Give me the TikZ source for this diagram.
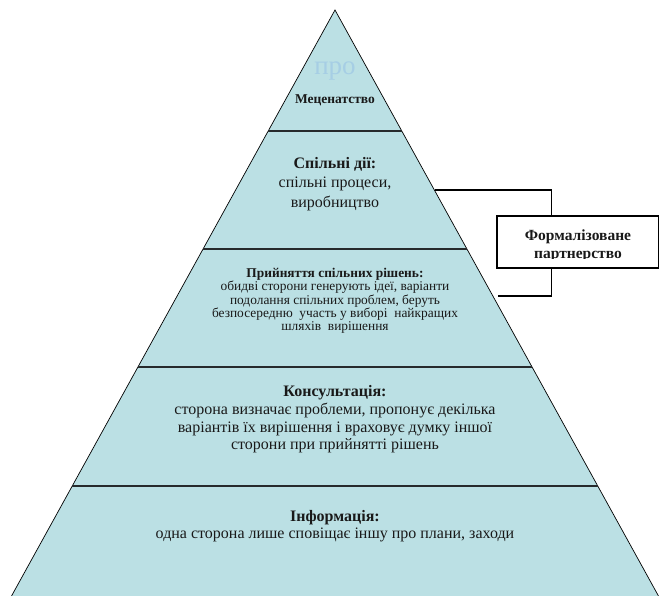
\documentclass[tikz,border=0pt]{standalone}
\usepackage{fontspec}
\setmainfont{Liberation Serif}
\usetikzlibrary{calc}
\definecolor{pyrfill}{RGB}{187,224,228}
\definecolor{ghost}{RGB}{166,206,228}
\definecolor{rulecol}{RGB}{38,42,44}
\definecolor{ruleshade}{RGB}{110,146,150}
\definecolor{ink}{RGB}{25,25,25}
\begin{document}
\begin{tikzpicture}[x=1pt,y=-1pt,
  tier/.style={align=center,text=ink,inner sep=0pt},
  divider/.style={draw=rulecol,line width=1.8pt},
  dividershade/.style={draw=ruleshade,line width=0.9pt,yshift=1.5pt},
  link/.style={draw=black,line width=1.2pt},
  formbox/.style={draw=black,line width=1.2pt,fill=white,minimum width=162pt,minimum height=52pt,inner sep=0pt},
  formtext/.style={text=ink,inner sep=0pt,anchor=base,font=\fontsize{15.5}{18}\selectfont\bfseries}]
\useasboundingbox (0,0) rectangle (659,595);

% pyramid body (base lies below the page edge)
\coordinate (apex) at (335,10);
\coordinate (bl) at (6,606);
\coordinate (br) at (664,606);
\filldraw[fill=pyrfill,draw=black,line width=0.7pt] (apex) -- (bl) -- (br) -- cycle;

% tier boundaries on the sides of the pyramid
\foreach \n/\t in {1/0.2030,2/0.4010,3/0.5990,4/0.7987}{
  \coordinate (l\n) at ($(apex)!\t!(bl)$);
  \coordinate (r\n) at ($(apex)!\t!(br)$);
}
\foreach \n in {1,2,3,4}{
  \draw[dividershade] ($(l\n)!0.006!(r\n)$) -- ($(r\n)!0.006!(l\n)$);
  \draw[divider] (l\n) -- (r\n);
}

% tier labels
\node[tier,text=ghost,font=\fontsize{27}{28}\selectfont] (ghost) at (335,71) {про};
\node[tier,font=\fontsize{13.5}{15}\selectfont\bfseries] (t1) at (335,100) {Меценатство};
\node[tier,font=\fontsize{16}{19.5}\selectfont] (t2) at (335,184)
  {\textbf{Спільні дії:}\\спільні процеси,\\виробництво};
\node[tier,font=\fontsize{13.4}{13.3}\selectfont] (t3) at (335,301)
  {\textbf{Прийняття спільних рішень:}\\обидві сторони генерують ідеї, варіанти\\подолання спільних проблем, беруть\\безпосередню\ \ участь у виборі\ \ найкращих\\шляхів\ \ вирішення};
\node[tier,font=\fontsize{16}{17.6}\selectfont] (t4) at (335,419.5)
  {\textbf{Консультація:}\\сторона визначає проблеми, пропонує декілька\\варіантів їх вирішення і враховує думку іншої\\сторони при прийнятті рішень};
\node[tier,font=\fontsize{16}{17.6}\selectfont] (t5) at (335,526)
  {\textbf{Інформація:}\\одна сторона лише сповіщає іншу про плани, заходи};

% formalised partnership box; its second line runs past the text area
\node[formbox] (fbox) at (578,242) {};
\begin{scope}
  \clip ($(fbox.north west)+(1,1)$) rectangle ($(fbox.south east)+(-1,-10.5)$);
  \node[formtext] (ftext1) at (578,240) {Формалізоване};
  \node[formtext] (ftext2) at (578,258) {партнерство};
\end{scope}

% bracket joining the two middle tiers to the box
\coordinate (c1) at (435,190);
\coordinate (c2) at (498,296);
\coordinate (j1) at ($(fbox.north west)!0.34!(fbox.north east)$);
\coordinate (j2) at ($(fbox.south west)!0.34!(fbox.south east)$);
\draw[link] (c1) -| (j1);
\draw[link] (j2) |- (c2);
\end{tikzpicture}
\end{document}
